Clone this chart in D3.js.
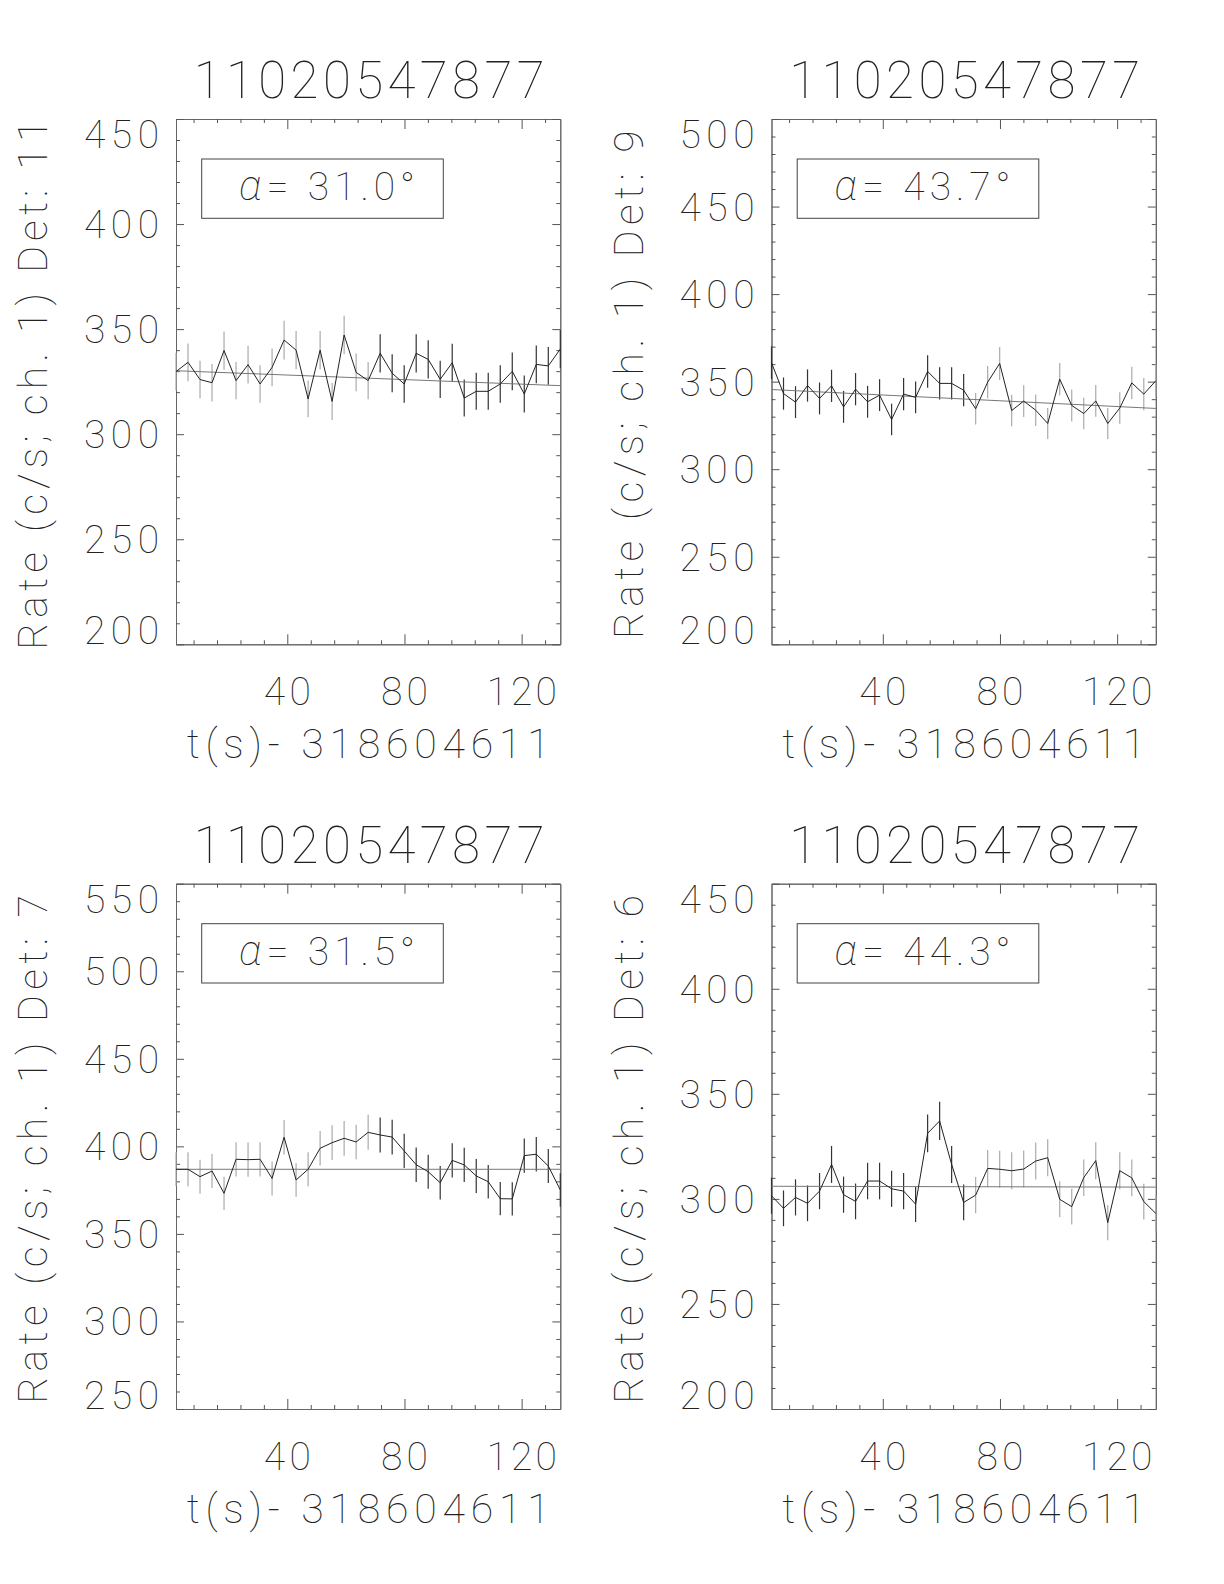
<!DOCTYPE html>
<html>
<head>
<meta charset="utf-8">
<script src="https://cdn.jsdelivr.net/npm/d3@7"></script>
<style>
  body { margin: 0; background: #fff; }
  text { font-family: Roboto, Lato, Inter, "DejaVu Sans", sans-serif; font-weight: 100; fill: #222; }
</style>
</head>
<body>
<div id="chart"></div>
<script>
//chart values
let titles = ["11020547877", "11020547877", "11020547877", "11020547877"];
let detectors = ["11", "9", "7", "6"];
let alphas = ["31.0", "43.7", "31.5", "44.3"];
let xLabel = "t(s)- 318604611";
let xMajorTicks = [40, 80, 120];
let yRanges = [[200, 450], [200, 500], [250, 550], [200, 450]];

let times = [2.0, 6.1, 10.2, 14.3, 18.4, 22.5, 26.6, 30.7, 34.8, 38.9, 43.0, 47.1, 51.2, 55.3, 59.4, 63.5,
  67.6, 71.7, 75.8, 79.9, 84.0, 88.1, 92.2, 96.3, 100.4, 104.5, 108.6, 112.7, 116.8, 120.9, 125.0, 129.1, 133.2];

let rates11 = [329.8, 334.2, 326.0, 324.5, 339.8, 325.5, 333.1, 323.9, 331.8, 344.8, 340.0, 316.8, 340.0, 315.6, 347.2, 329.4,
  325.5, 338.5, 329.0, 323.9, 338.5, 335.6, 326.1, 334.0, 317.2, 320.4, 320.4, 323.9, 329.9, 319.1, 333.2, 332.5, 340.5];
let errors11 = [9.0, 9.0, 8.9, 8.9, 9.1, 8.9, 9.0, 8.9, 9.0, 9.2, 9.1, 8.8, 9.1, 8.8, 9.2, 9.0,
  8.9, 9.1, 9.0, 8.9, 9.1, 9.1, 8.9, 9.0, 8.8, 8.8, 8.8, 8.9, 9.0, 8.8, 9.0, 9.0, 9.1];

let rates9 = [360.8, 343.2, 338.3, 347.8, 340.4, 347.6, 335.6, 345.7, 338.5, 342.3, 328.4, 342.9, 341.0, 355.8, 349.0, 349.0,
  345.1, 334.5, 349.7, 360.4, 333.5, 338.9, 333.7, 326.1, 351.4, 336.4, 331.8, 339.0, 326.1, 334.9, 349.3, 342.9, 350.5];
let errors9 = [9.4, 9.2, 9.1, 9.2, 9.1, 9.2, 9.1, 9.2, 9.1, 9.1, 9.0, 9.2, 9.1, 9.3, 9.2, 9.2,
  9.2, 9.0, 9.2, 9.4, 9.0, 9.1, 9.0, 8.9, 9.3, 9.1, 9.0, 9.1, 8.9, 9.0, 9.2, 9.2, 9.3];

let rates7 = [386.9, 386.9, 382.7, 385.9, 373.2, 392.6, 392.4, 392.6, 381.7, 405.2, 380.8, 386.9, 398.9, 402.1, 404.6, 402.5,
  408.0, 406.5, 405.3, 397.4, 389.5, 385.5, 379.2, 392.0, 389.4, 383.1, 379.8, 370.1, 370.0, 394.7, 395.5, 388.8, 375.1];
let errors7 = [9.7, 9.7, 9.7, 9.7, 9.5, 9.8, 9.8, 9.8, 9.7, 9.9, 9.6, 9.7, 9.9, 9.9, 9.9, 9.9,
  10.0, 10.0, 9.9, 9.8, 9.8, 9.7, 9.6, 9.8, 9.8, 9.7, 9.6, 9.5, 9.5, 9.8, 9.8, 9.7, 9.6];

let rates6 = [301.5, 295.5, 300.7, 297.9, 303.7, 316.4, 302.0, 298.8, 308.5, 308.5, 304.8, 303.7, 297.5, 331.2, 337.1, 316.4,
  298.3, 301.8, 314.5, 314.1, 313.4, 314.2, 318.0, 319.6, 299.8, 296.3, 310.1, 318.2, 288.7, 313.4, 310.0, 298.7, 293.1];
let errors6 = [8.6, 8.5, 8.6, 8.5, 8.6, 8.8, 8.6, 8.5, 8.7, 8.7, 8.6, 8.6, 8.5, 9.0, 9.1, 8.8,
  8.5, 8.6, 8.8, 8.8, 8.8, 8.8, 8.8, 8.8, 8.6, 8.5, 8.7, 8.8, 8.4, 8.8, 8.7, 8.5, 8.5];

//linear fit, value at first and last bin
let fitStart = [330.2, 345.5, 386.9, 306.0];
let fitEnd = [323.1, 334.7, 386.9, 305.6];

let allRates = [rates11, rates9, rates7, rates6];
let allErrors = [errors11, errors9, errors7, errors6];

//layout
let W = 1224, H = 1584;
let plotW = 384.3, plotH = 525.3;
let lefts = [176, 771.5, 176, 771.5];
let tops = [119, 119, 883.7, 883.7];
let capH = 28;

let svg = d3.select("#chart").append("svg")
    .attr("width", W)
    .attr("height", H);

for (let p = 0; p < 4; p++) {
    let rates = allRates[p];
    let errors = allErrors[p];

    let g = svg.append("g")
        .attr("transform", "translate(" + lefts[p] + "," + tops[p] + ")");

    let x = d3.scaleLinear().domain([times[0], times[times.length - 1]]).range([0, plotW]);
    let y = d3.scaleLinear().domain(yRanges[p]).range([plotH, 0]);

    //minor ticks every 8 s, every 10 c/s
    let xMinor = d3.range(8, times[times.length - 1], 8).filter(v => xMajorTicks.indexOf(v) < 0);
    let yMajor = d3.range(yRanges[p][0], yRanges[p][1] + 1, 50);
    let yMinor = d3.range(yRanges[p][0], yRanges[p][1] + 1, 10).filter(v => v % 50 != 0);

    let axes = [
        [d3.axisBottom(x).tickValues(xMajorTicks).tickSize(-10), "translate(0," + plotH + ")"],
        [d3.axisBottom(x).tickValues(xMinor).tickSize(-4), "translate(0," + plotH + ")"],
        [d3.axisTop(x).tickValues(xMajorTicks).tickSize(-10), "translate(0,0)"],
        [d3.axisTop(x).tickValues(xMinor).tickSize(-4), "translate(0,0)"],
        [d3.axisLeft(y).tickValues(yMajor).tickSize(-8), "translate(0,0)"],
        [d3.axisLeft(y).tickValues(yMinor).tickSize(-4), "translate(0,0)"],
        [d3.axisRight(y).tickValues(yMajor).tickSize(-8), "translate(" + plotW + ",0)"],
        [d3.axisRight(y).tickValues(yMinor).tickSize(-4), "translate(" + plotW + ",0)"]
    ];
    axes.forEach(a => {
        let ax = g.append("g")
            .attr("transform", a[1])
            .call(a[0].tickFormat("").tickSizeOuter(0));
        ax.selectAll("path").attr("stroke", "#666");
        ax.selectAll("line").attr("stroke", "#555");
    });

    //tick labels
    g.selectAll("xlab")
        .data(xMajorTicks)
        .enter().append("text")
        .attr("x", d => x(d))
        .attr("y", plotH + 61)
        .attr("text-anchor", "middle")
        .attr("textLength", d => String(d).length * 23.5)
        .attr("lengthAdjust", "spacing")
        .style("font-size", "39px")
        .text(d => d);

    g.selectAll("ylab")
        .data(yMajor)
        .enter().append("text")
        .attr("x", -17)
        .attr("y", d => {
            let cy = Math.max(capH / 2 + 1, Math.min(plotH - capH / 2, y(d)));
            return cy + capH / 2;
        })
        .attr("text-anchor", "end")
        .attr("textLength", 75)
        .attr("lengthAdjust", "spacing")
        .style("font-size", "39px")
        .text(d => d);

    //title and axis titles
    g.append("text")
        .attr("x", plotW / 2 + 1)
        .attr("y", -21)
        .attr("text-anchor", "middle")
        .attr("textLength", 351)
        .attr("lengthAdjust", "spacing")
        .style("font-size", "51px")
        .text(titles[p]);

    g.append("text")
        .attr("x", plotW / 2)
        .attr("y", plotH + 114)
        .attr("text-anchor", "middle")
        .attr("textLength", 363)
        .attr("lengthAdjust", "spacing")
        .style("font-size", "41px")
        .text(xLabel);

    let yTitle = "Rate (c/s; ch. 1) Det: " + detectors[p];
    g.append("text")
        .attr("transform", "translate(-129," + (plotH / 2 + 3) + ") rotate(-90)")
        .attr("text-anchor", "middle")
        .attr("textLength", yTitle.length * 21.2)
        .attr("lengthAdjust", "spacing")
        .style("font-size", "41px")
        .text(yTitle);

    //alpha box
    g.append("rect")
        .attr("x", 25.7)
        .attr("y", 40)
        .attr("width", 241.6)
        .attr("height", 59.3)
        .attr("fill", "none")
        .attr("stroke", "#444");

    let at = g.append("text")
        .attr("x", 63)
        .attr("y", 81)
        .attr("textLength", 176)
        .attr("lengthAdjust", "spacing")
        .style("font-size", "39px");
    at.append("tspan")
        .style("font-style", "italic")
        .style("font-size", "42px")
        .text("\u03b1");
    at.append("tspan").text("= " + alphas[p] + "\u00b0");

    //error bars
    let darkFirst = (p % 2 == 1);
    g.selectAll("err")
        .data(rates)
        .enter().append("line")
        .attr("x1", (d, i) => x(times[i]))
        .attr("x2", (d, i) => x(times[i]))
        .attr("y1", (d, i) => y(d - errors[i]))
        .attr("y2", (d, i) => y(d + errors[i]))
        .attr("stroke", (d, i) => ((i <= 16) == darkFirst) ? "#333" : "#aaa")
        .attr("stroke-width", 1.2);

    //fit line
    g.append("line")
        .attr("x1", x(times[0]))
        .attr("x2", x(times[times.length - 1]))
        .attr("y1", y(fitStart[p]))
        .attr("y2", y(fitEnd[p]))
        .attr("stroke", "#777")
        .attr("stroke-width", 1);

    //light curve
    g.append("path")
        .datum(rates)
        .attr("fill", "none")
        .attr("stroke", "#222")
        .attr("stroke-width", 1)
        .attr("d", d3.line().x((d, i) => x(times[i])).y(d => y(d)));
}
</script>
</body>
</html>
